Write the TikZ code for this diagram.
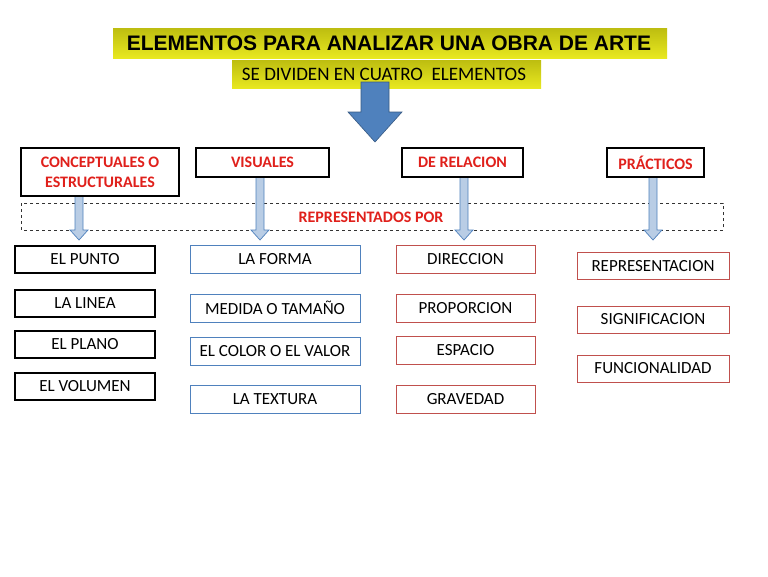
\documentclass[tikz,border=0pt]{standalone}
\usepackage{fontspec}
\setmainfont{Carlito}
\newfontfamily\titlefont{Liberation Sans}
\definecolor{steel}{HTML}{4F81BD}
\definecolor{lsteel}{HTML}{B9CDE5}
\definecolor{rbord}{HTML}{C0504D}
\definecolor{rtext}{HTML}{E0201B}
\definecolor{ytop}{HTML}{BDBD10}
\definecolor{ybot}{HTML}{E8E820}
\begin{document}
\begin{tikzpicture}[x=1pt,y=-1pt,
  cat/.style={draw=black,line width=1.3pt,fill=white,text=rtext,font=\fontsize{16}{20}\selectfont\bfseries,align=center},
  bb/.style={draw=black,line width=1.3pt,fill=white,font=\fontsize{17}{19}\selectfont},
  bl/.style={draw=steel,line width=1pt,fill=white,font=\fontsize{17}{19}\selectfont},
  rd/.style={draw=rbord,line width=0.9pt,fill=white,font=\fontsize{17}{19}\selectfont},
  sarrow/.style={draw=steel,fill=lsteel,line width=0.7pt}]
\useasboundingbox (0,0) rectangle (768,576);
\fill[white] (0,0) rectangle (768,576);
% title
\shade[top color=ytop,bottom color=ybot] (113,28) rectangle (667,58);
\node (title) at (389,43) {\titlefont\bfseries\fontsize{21}{24}\selectfont ELEMENTOS PARA ANALIZAR UNA OBRA DE ARTE};
\shade[top color=ytop,bottom color=ybot] (232,60) rectangle (541,88);
\node (sub) at (384,74) {\fontsize{19}{21}\selectfont SE DIVIDEN EN CUATRO\ \ ELEMENTOS};
% big arrow
\filldraw[fill=steel,draw=steel!70!black,line width=0.6pt]
 (361,82) -- (389,82) -- (389,112) -- (402,112) -- (375,142) -- (348,112) -- (361,112) -- cycle;
% dashed band
\draw[dashed,gray!40!black] (21,203) rectangle (723,230);
% small arrows
\foreach \x/\y in {79/196,260/177,464/177,653/177}{
 \filldraw[sarrow] (\x-4,\y) -- (\x+4,\y) -- (\x+4,230) -- (\x+9,230) -- (\x,240) -- (\x-9,230) -- (\x-4,230) -- cycle;}
\node[text=rtext,font=\fontsize{16}{18}\selectfont\bfseries] (rep) at (371,217) {REPRESENTADOS POR};
% categories
\node[cat,minimum width=158,minimum height=48] (c1) at (100,172) {CONCEPTUALES O\\ESTRUCTURALES};
\node[cat,minimum width=133,minimum height=29] (c2) at (262.5,162.5) {VISUALES};
\node[cat,minimum width=121,minimum height=29] (c3) at (462.5,162.5) {DE RELACION};
\node[cat,minimum width=97,minimum height=29] (c4) at (655.5,162.5) {PRÁCTICOS};
% left column
\foreach \n/\y/\t in {a1/259.5/EL PUNTO,a2/303.5/LA LINEA,a3/344.5/EL PLANO,a4/386.5/EL VOLUMEN}
 \node[bb,minimum width=140,minimum height=27] (\n) at (85,\y) {\t};
\foreach \n/\y/\t in {b1/259.5/LA FORMA,b2/308/MEDIDA O TAMAÑO,b3/351/EL COLOR O EL VALOR,b4/399/LA TEXTURA}
 \node[bl,minimum width=170,minimum height=28] (\n) at (275,\y) {\t};
\foreach \n/\y/\t in {d1/259.5/DIRECCION,d2/308/PROPORCION,d3/350.5/ESPACIO,d4/399/GRAVEDAD}
 \node[rd,minimum width=139,minimum height=28] (\n) at (465.5,\y) {\t};
\foreach \n/\y/\t in {e1/266/REPRESENTACION,e2/319.5/SIGNIFICACION,e3/368.5/FUNCIONALIDAD}
 \node[rd,minimum width=152,minimum height=27] (\n) at (653,\y) {\t};
\end{tikzpicture}
\end{document}
